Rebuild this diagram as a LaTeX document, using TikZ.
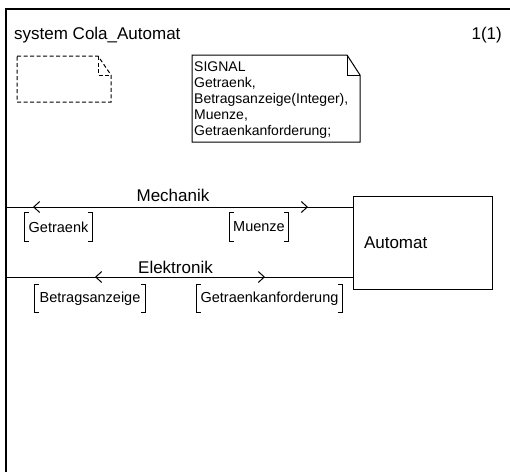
\documentclass[tikz,border=0pt]{standalone}
\usepackage{fontspec}
\setmainfont{Liberation Sans}
\usetikzlibrary{arrows.meta,decorations.markings}
\tikzset{barb/.tip={Straight Barb[length=6pt,width=11pt]}}
\newcommand\sigbrackets[1]{%
  \draw[brk] ([xshift=4pt]#1.north west) -- (#1.north west) -- (#1.south west) -- ++(4pt,0);
  \draw[brk] ([xshift=-4pt]#1.north east) -- (#1.north east) -- (#1.south east) -- ++(-4pt,0);}
\begin{document}
\begin{tikzpicture}[x=1pt,y=-1pt,
  lbl/.style={font=\fontsize{17}{20}\selectfont, inner sep=0pt},
  small/.style={font=\fontsize{14}{16}\selectfont},
  chan/.style={line width=1pt},
  sigl/.style={font=\fontsize{14.5}{16}\selectfont, inner xsep=3pt, inner ysep=0pt, minimum height=28pt},
  brk/.style={line width=1pt},
  note/.style={line width=1pt}]
\useasboundingbox (0,0) rectangle (510,471);
\fill[white] (0,0) rectangle (510,471);
% frame
\coordinate (fTL) at (6,9);
\coordinate (fTR) at (512,9);
\coordinate (fBL) at (6,473);
\draw[line width=1.3pt] (fTR) -- (fTL) -- (fBL);
\node[lbl, anchor=base west] (title) at (14,39) {system Cola\_Automat};
\node[lbl, anchor=base east] (page) at (502,39) {1(1)};
% dashed note
\draw[note, dash pattern=on 4pt off 2.5pt] (17,56) -- (98,56) -- (111,75) -- (111,102) -- (17,102) -- cycle;
\draw[note, dash pattern=on 4pt off 2.5pt] (98,56) -- (98,75) -- (111,75);
% signal text box
\draw[note] (192,55) -- (347,55) -- (360,75) -- (360,142) -- (192,142) -- cycle;
\draw[note] (347,55) -- (347,75) -- (360,75);
\node[small, anchor=north west, align=left, inner sep=0pt] (sig) at (194,62)
  {SIGNAL\\Getraenk,\\Betragsanzeige(Integer),\\Muenze,\\Getraenkanforderung;};
% block
\node[lbl, draw, line width=1pt, minimum width=139pt, minimum height=93pt,
  text width=117pt, inner xsep=11pt, align=left] (auto) at (422.5,242.5) {Automat};
% channels
\coordinate (mL) at (6,207);
\coordinate (eL) at (6,277);
\draw[chan, postaction={decorate}, decoration={markings,
  mark=at position 27pt with {\arrowreversed{barb}},
  mark=at position 302pt with {\arrow{barb}}}] (mL) -- (mL -| auto.west);
\draw[chan, postaction={decorate}, decoration={markings,
  mark=at position 89pt with {\arrowreversed{barb}},
  mark=at position 259pt with {\arrow{barb}}}] (eL) -- (eL -| auto.west);
\node[lbl, anchor=base] (mech) at (173,201) {Mechanik};
\node[lbl, anchor=base] (elek) at (175.5,273) {Elektronik};
% signal lists
\node[sigl, minimum width=67pt] (sGet) at (58.5,227) {Getraenk};
\node[sigl, minimum width=58pt] (sMue) at (259,227) {Muenze};
\node[sigl, minimum width=110pt] (sBet) at (90,298.5) {Betragsanzeige};
\node[sigl, minimum width=145pt] (sGan) at (269.5,298.5) {Getraenkanforderung};
\sigbrackets{sGet}
\sigbrackets{sMue}
\sigbrackets{sBet}
\sigbrackets{sGan}
\end{tikzpicture}
\end{document}
